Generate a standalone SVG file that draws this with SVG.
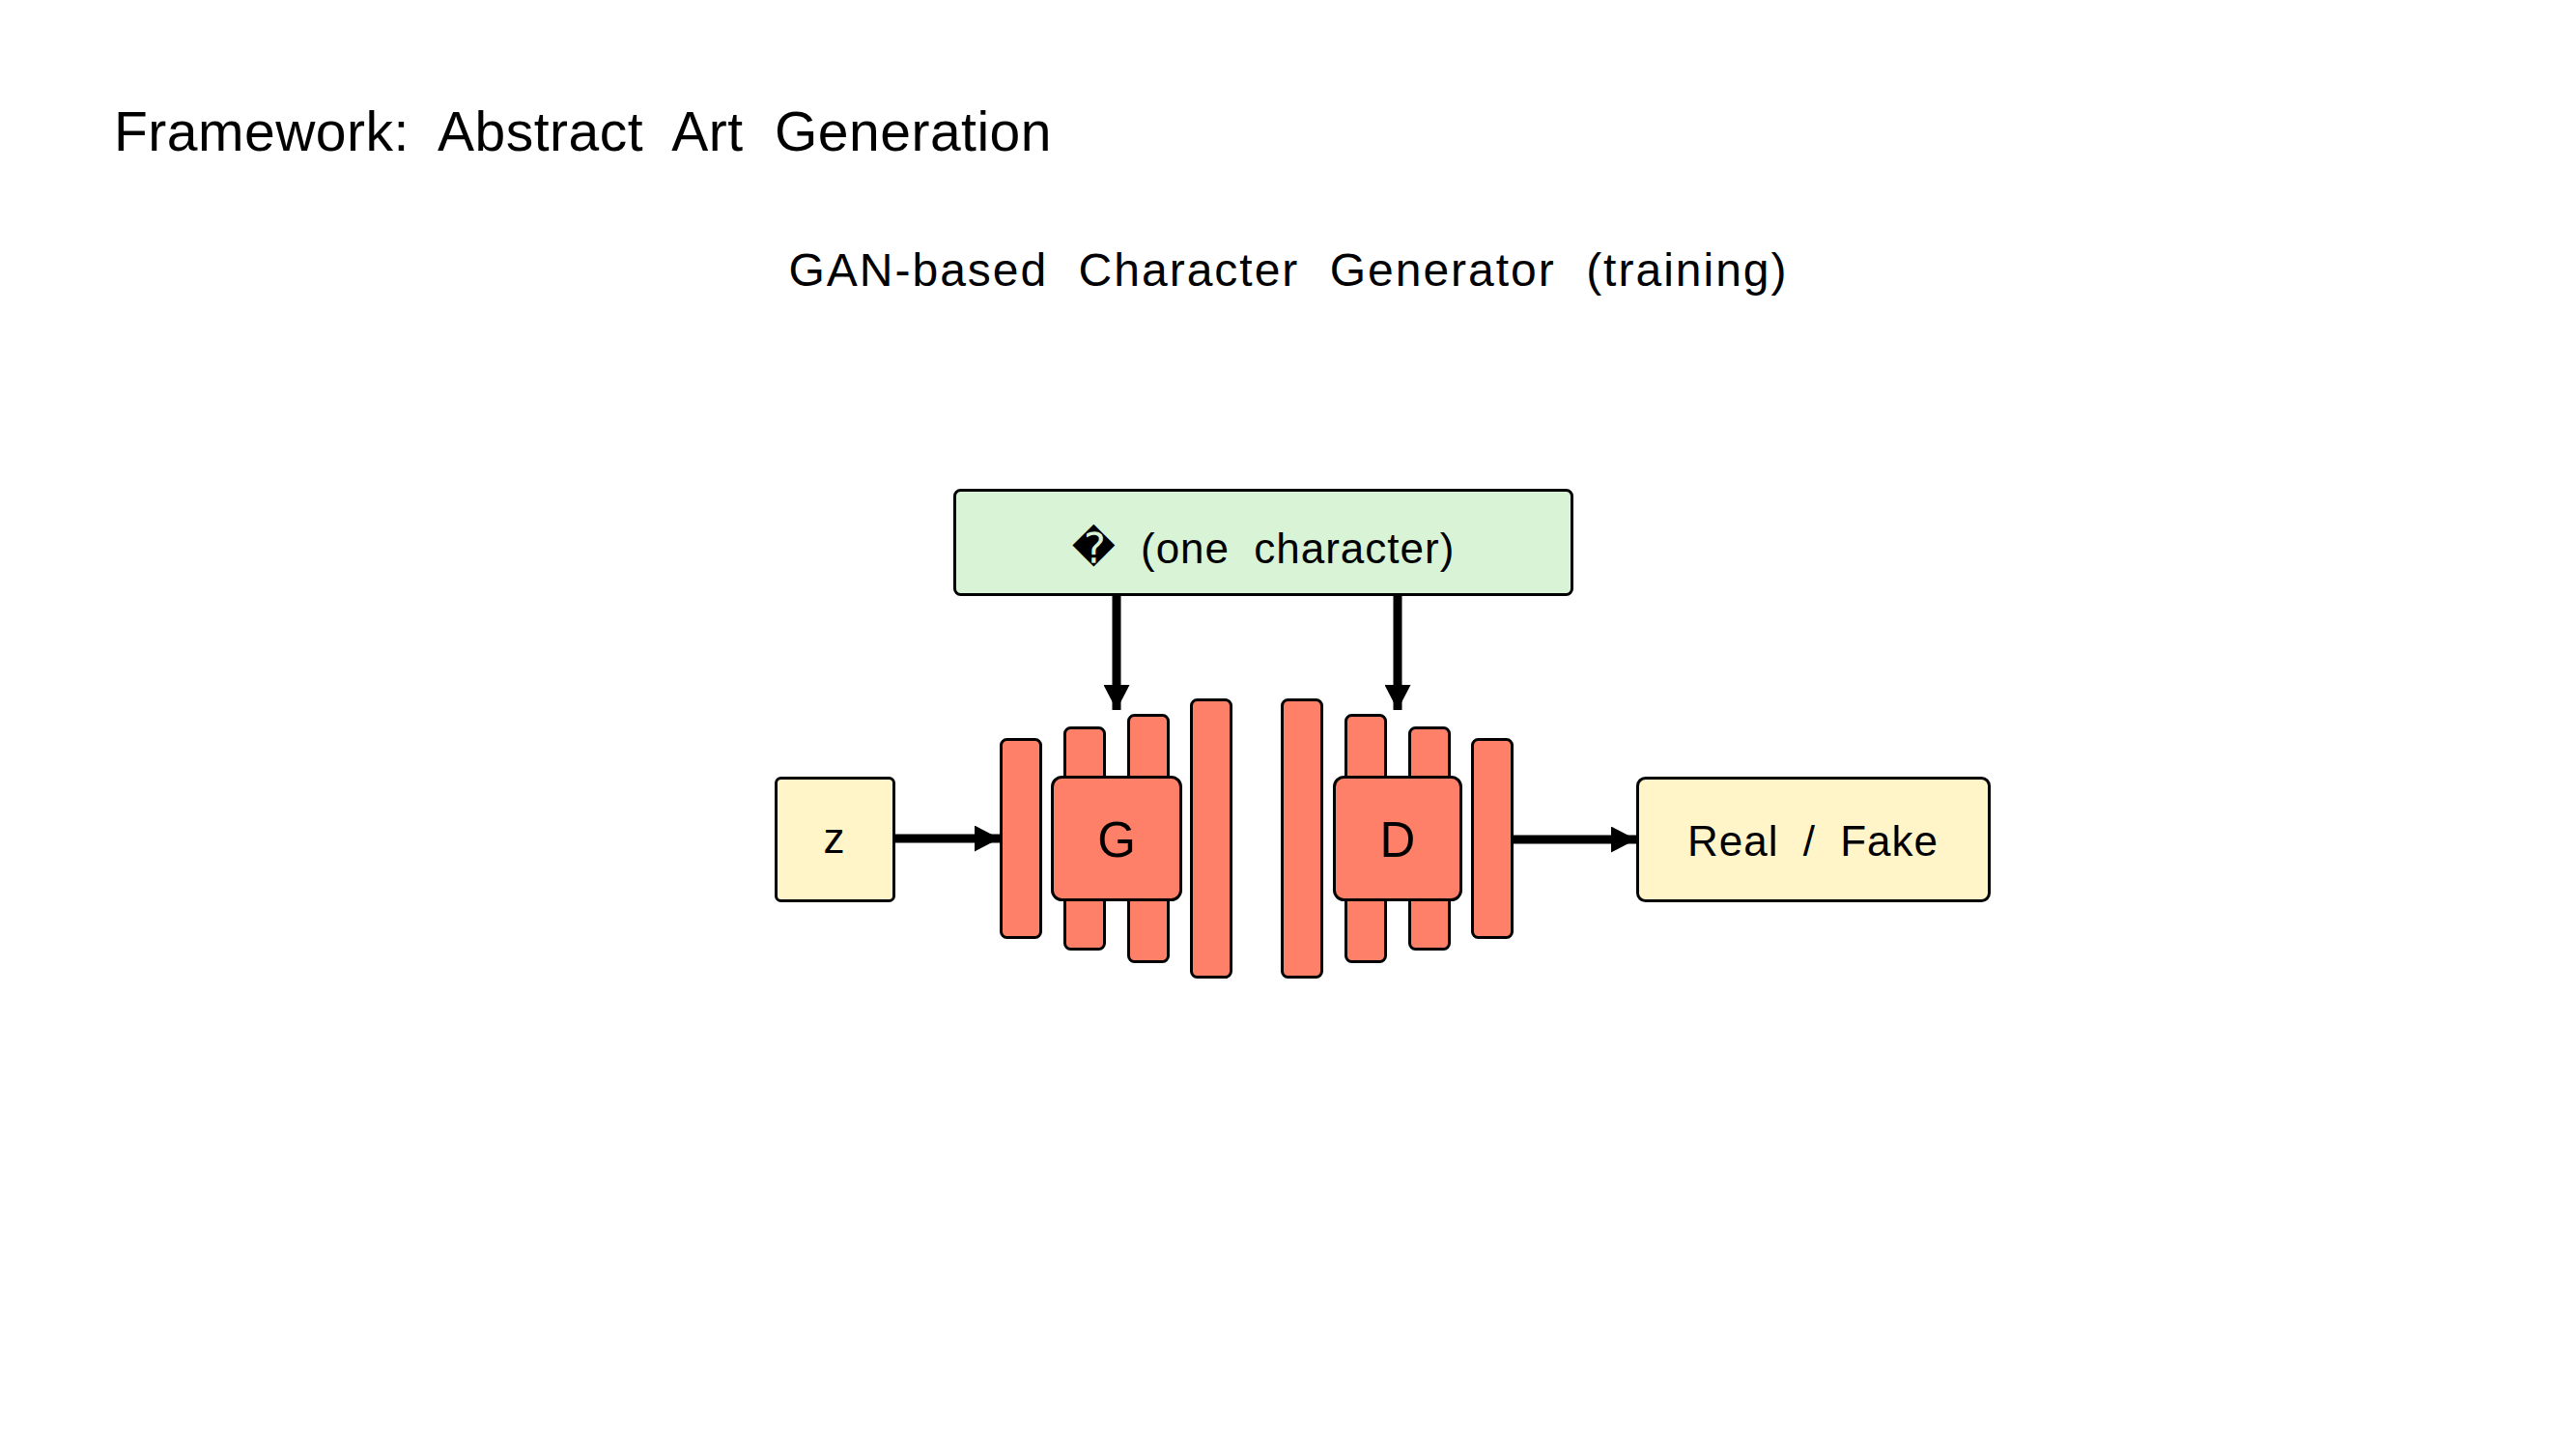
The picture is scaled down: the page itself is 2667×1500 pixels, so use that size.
<svg xmlns="http://www.w3.org/2000/svg" width="2667" height="1500" viewBox="0 0 2667 1500">
<style>
  text { font-family: "Liberation Sans", "DejaVu Sans", Arial, sans-serif; fill: #000; }
  .title { font-size: 57px; letter-spacing: 0.5px; word-spacing: 16px; }
  .sub { font-size: 48px; letter-spacing: 2px; word-spacing: 16px; }
  .lbl { font-size: 44px; letter-spacing: 1px; word-spacing: 12px; }
  .big { font-size: 51px; }
  .box { stroke: #000; stroke-width: 3; }
  .green { fill: #d9f3d7; }
  .yellow { fill: #fff5c8; }
  .salmon { fill: #ff8069; }
  .conn { stroke: #000; stroke-width: 9; fill: none; marker-end: url(#ah); }
</style>
<defs>
  <marker id="ah" viewBox="0 0 26 27" refX="26" refY="13.5" markerWidth="26" markerHeight="27" markerUnits="userSpaceOnUse" orient="auto">
    <path d="M0,0 L26,13.5 L0,27 Z" fill="#000"/>
  </marker>
</defs>
<rect width="2667" height="1500" fill="#fff"/>
<text class="title" x="118" y="156">Framework: Abstract Art Generation</text>
<text class="sub" x="1334" y="296" text-anchor="middle">GAN-based Character Generator (training)</text>

<g id="cond">
  <rect class="box green" x="988.5" y="507.5" width="639" height="108" rx="6"/>
  <text class="lbl" x="1308" y="583" text-anchor="middle">&#xFFFD; (one character)</text>
</g>
<g id="z">
  <rect class="box yellow" x="803.5" y="805.5" width="122" height="127" rx="5"/>
  <text class="lbl" x="864" y="883" text-anchor="middle">z</text>
</g>
<g id="generator">
  <rect class="box salmon" x="1036.5" y="765.5" width="41" height="205" rx="6"/>
  <rect class="box salmon" x="1102.5" y="753.5" width="41" height="229" rx="6"/>
  <rect class="box salmon" x="1168.5" y="740.5" width="41" height="255" rx="6"/>
  <rect class="box salmon" x="1233.5" y="724.5" width="41" height="287" rx="6"/>
  <rect class="box salmon" x="1089.5" y="804.5" width="133" height="127" rx="10"/>
  <text class="big" x="1156" y="887" text-anchor="middle">G</text>
</g>
<g id="discriminator">
  <rect class="box salmon" x="1327.5" y="724.5" width="41" height="287" rx="6"/>
  <rect class="box salmon" x="1393.5" y="740.5" width="41" height="255" rx="6"/>
  <rect class="box salmon" x="1459.5" y="753.5" width="41" height="229" rx="6"/>
  <rect class="box salmon" x="1524.5" y="765.5" width="41" height="205" rx="6"/>
  <rect class="box salmon" x="1381.5" y="804.5" width="131" height="127" rx="10"/>
  <text class="big" x="1447" y="887" text-anchor="middle">D</text>
</g>
<g id="output">
  <rect class="box yellow" x="1695.5" y="805.5" width="364" height="127" rx="8"/>
  <text class="lbl" x="1877" y="886" text-anchor="middle">Real / Fake</text>
</g>
<g id="connectors">
  <path class="conn" d="M926,868 L1035,868"/>
  <path class="conn" d="M1156,617 L1156,735"/>
  <path class="conn" d="M1447,617 L1447,735"/>
  <path class="conn" d="M1567,869 L1694,869"/>
</g>
</svg>
